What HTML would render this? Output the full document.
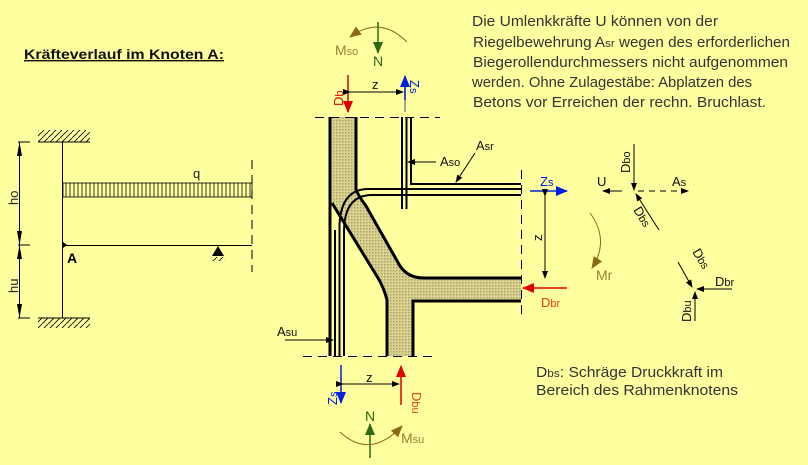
<!DOCTYPE html>
<html><head><meta charset="utf-8"><style>
html,body{margin:0;padding:0;background:#ffff9f;}
svg{display:block;font-family:"Liberation Sans",sans-serif;}
</style></head><body>
<svg width="808" height="465" viewBox="0 0 808 465" xmlns="http://www.w3.org/2000/svg">
<defs>
<pattern id="dots" width="3" height="3" patternUnits="userSpaceOnUse">
<rect width="3" height="3" fill="#ddd58e"/><rect width="1.5" height="1.5" fill="#a9a070"/>
</pattern>
<marker id="ab" markerWidth="8" markerHeight="8" refX="7" refY="4" orient="auto" markerUnits="userSpaceOnUse"><path d="M0,1 L8,4 L0,7z" fill="#000"/></marker>
<marker id="ar" markerWidth="12" markerHeight="10" refX="11" refY="5" orient="auto" markerUnits="userSpaceOnUse"><path d="M0,0 L12,5 L0,10z" fill="#e00000"/></marker>
<marker id="au" markerWidth="12" markerHeight="10" refX="11" refY="5" orient="auto" markerUnits="userSpaceOnUse"><path d="M0,0 L12,5 L0,10z" fill="#0020e0"/></marker>
<marker id="ag" markerWidth="12" markerHeight="10" refX="11" refY="5" orient="auto" markerUnits="userSpaceOnUse"><path d="M0,0 L12,5 L0,10z" fill="#2a6a10"/></marker>
<marker id="ao" markerWidth="12" markerHeight="10" refX="11" refY="5" orient="auto" markerUnits="userSpaceOnUse"><path d="M0,0 L12,5 L0,10z" fill="#8a6a10"/></marker>
<pattern id="vh" width="4" height="14" patternUnits="userSpaceOnUse"><line x1="2" y1="0" x2="2" y2="14" stroke="#000" stroke-width="0.8"/></pattern>
<pattern id="hatch" width="6" height="6" patternUnits="userSpaceOnUse"><line x1="0" y1="6" x2="6" y2="0" stroke="#000" stroke-width="0.8"/></pattern>
</defs>

<!-- left diagram -->
<text x="24" y="59" font-size="14" font-weight="bold" fill="#111" text-decoration="underline" textLength="200" lengthAdjust="spacingAndGlyphs">Kräfteverlauf im Knoten A:</text>
<rect x="38" y="130" width="52" height="12" fill="url(#hatch)"/>
<line x1="38" y1="142" x2="90" y2="142" stroke="#000"/>
<rect x="38" y="318" width="52" height="10" fill="url(#hatch)"/>
<line x1="38" y1="318" x2="90" y2="318" stroke="#000"/>
<line x1="62.5" y1="142" x2="62.5" y2="318" stroke="#000"/>
<rect x="63" y="183" width="189" height="14" fill="url(#vh)" stroke="#000" stroke-width="0.8"/>
<text x="193" y="178" font-size="13" fill="#222">q</text>
<line x1="62" y1="245.5" x2="252" y2="245.5" stroke="#000"/>
<path d="M63,242 L67,245 L63,248z" fill="#000"/>
<text x="67" y="263" font-size="14" font-weight="bold" fill="#000">A</text>
<line x1="252" y1="160" x2="252" y2="272" stroke="#000" stroke-dasharray="9,6"/>
<path d="M218,246 L212,256 L224,256z" fill="#000"/>
<rect x="211" y="257" width="14" height="4" fill="url(#hatch)"/>
<line x1="18" y1="142" x2="30" y2="142" stroke="#000"/>
<line x1="18" y1="245" x2="30" y2="245" stroke="#000"/>
<line x1="18" y1="318" x2="30" y2="318" stroke="#000"/>
<line x1="19.5" y1="142" x2="19.5" y2="318" stroke="#000"/>
<path d="M17,156 L19.5,142 L22,156z M17,231 L19.5,245 L22,231z M17,259 L19.5,245 L22,259z M17,304 L19.5,318 L22,304z" fill="#000"/>
<text transform="translate(18,205) rotate(-90)" font-size="13" fill="#222">ho</text>
<text transform="translate(18,293) rotate(-90)" font-size="13" fill="#222">hu</text>

<!-- node -->
<path d="M330,117 L356,117 L356,190 Q360,198 366,206 L400,266 Q408,278 424,278 L521,278 L521,301 L413,301 L413,356 L387,356 L387,300 Q384,288 378,278 L335,206 L330,200 Z" fill="url(#dots)"/>
<g stroke="#000" fill="none" stroke-width="3">
<line x1="356" y1="117" x2="356" y2="190"/>
<path d="M356,190 Q360,198 366,206 L400,266 Q408,278 424,278 L521,278"/>
<path d="M521,301 L413,301 L413,356"/>
<path d="M387,356 L387,300 Q384,288 378,278 L332,203"/>
<line x1="330" y1="117" x2="330" y2="356"/>
</g>
<g stroke="#000" fill="none" stroke-width="2">
<line x1="335" y1="230" x2="335" y2="356"/>
<line x1="339.5" y1="225" x2="339.5" y2="356"/>
<line x1="344" y1="232" x2="344" y2="356"/>
<path d="M339.5,225 Q341,188 370,189 L521,189"/>
<path d="M344,232 Q344,195 372,195 L521,195"/>
<line x1="402" y1="117" x2="402" y2="209"/>
<line x1="406.5" y1="117" x2="406.5" y2="209"/>
<path d="M411,117 L411,184 L521,184"/>
</g>
<line x1="315" y1="117.5" x2="440" y2="117.5" stroke="#000" stroke-dasharray="9,6"/>
<line x1="303" y1="356.5" x2="433" y2="356.5" stroke="#000" stroke-dasharray="9,6"/>
<line x1="521.5" y1="170" x2="521.5" y2="318" stroke="#000" stroke-dasharray="9,6"/>

<!-- labels & leaders -->
<text x="476" y="150" font-size="13" fill="#111">A<tspan font-size="11">sr</tspan></text>
<line x1="475" y1="153" x2="456" y2="182" stroke="#000" marker-end="url(#ab)"/>
<text x="440" y="166" font-size="13" fill="#111">A<tspan font-size="11">so</tspan></text>
<line x1="436" y1="162" x2="408" y2="162" stroke="#000" marker-end="url(#ab)"/>
<text x="277" y="336" font-size="13" fill="#111">A<tspan font-size="11">su</tspan></text>
<line x1="285" y1="340" x2="333" y2="340" stroke="#000" marker-end="url(#ab)"/>

<!-- top forces -->
<path d="M407,42 Q380,15 350,37" fill="none" stroke="#8a6a10" marker-end="url(#ao)"/>
<text x="335" y="55" font-size="14" fill="#9a8030">M<tspan font-size="11">so</tspan></text>
<line x1="378" y1="22" x2="378" y2="53" stroke="#2a6a10" stroke-width="1.5" marker-end="url(#ag)"/>
<text x="373" y="66" font-size="14" fill="#2a6a10">N</text>
<line x1="348" y1="75" x2="348" y2="112" stroke="#e00000" stroke-width="1.5" marker-end="url(#ar)"/>
<text transform="translate(343,106) rotate(-90)" font-size="13" fill="#e00000">D<tspan font-size="11">b</tspan></text>
<line x1="350" y1="92" x2="403" y2="92" stroke="#000" marker-start="url(#ab)" marker-end="url(#ab)"/>
<text x="372" y="89" font-size="13" fill="#111">z</text>
<line x1="405" y1="112" x2="405" y2="76" stroke="#888" stroke-width="1.5"/>
<line x1="405" y1="100" x2="405" y2="76" stroke="#0020e0" stroke-width="1.5" marker-end="url(#au)"/>
<text transform="translate(410,80) rotate(90)" font-size="13" fill="#0020e0">Z<tspan font-size="11">s</tspan></text>

<!-- right side of node -->
<line x1="530" y1="191" x2="567" y2="191" stroke="#0020e0" stroke-width="1.5" marker-end="url(#au)"/>
<text x="540" y="186" font-size="13" fill="#0020e0">Z<tspan font-size="11">s</tspan></text>
<line x1="545" y1="196" x2="545" y2="278" stroke="#000" marker-start="url(#ab)" marker-end="url(#ab)"/>
<text transform="translate(542,241) rotate(-90)" font-size="13" fill="#111">z</text>
<line x1="567" y1="288" x2="523" y2="288" stroke="#e00000" stroke-width="1.5" marker-end="url(#ar)"/>
<text x="541" y="307" font-size="13" fill="#e04010">D<tspan font-size="11">br</tspan></text>
<path d="M590,213 Q610,240 592,268" fill="none" stroke="#8a6a10" marker-end="url(#ao)"/>
<text x="596" y="280" font-size="14" fill="#9a8030">Mr</text>

<!-- bottom forces -->
<line x1="341" y1="365" x2="341" y2="403" stroke="#0020e0" stroke-width="1.5" marker-end="url(#au)"/>
<text transform="translate(337,405) rotate(-90)" font-size="13" fill="#0020e0">Z<tspan font-size="11">s</tspan></text>
<line x1="343" y1="384" x2="399" y2="384" stroke="#000" marker-start="url(#ab)" marker-end="url(#ab)"/>
<text x="366" y="382" font-size="13" fill="#111">z</text>
<line x1="401" y1="405" x2="401" y2="366" stroke="#e00000" stroke-width="1.5" marker-end="url(#ar)"/>
<text transform="translate(412,392) rotate(90)" font-size="13" fill="#e04010">D<tspan font-size="11">bu</tspan></text>
<line x1="370" y1="458" x2="370" y2="424" stroke="#2a6a10" stroke-width="1.5" marker-end="url(#ag)"/>
<text x="365" y="421" font-size="14" fill="#2a6a10">N</text>
<path d="M340,432 Q370,460 402,426" fill="none" stroke="#8a6a10" marker-end="url(#ao)"/>
<text x="401" y="443" font-size="14" fill="#9a8030">M<tspan font-size="11">su</tspan></text>

<!-- force diagrams -->
<line x1="634" y1="144" x2="634" y2="190" stroke="#000" marker-end="url(#ab)"/>
<text transform="translate(630,173) rotate(-90)" font-size="13" fill="#111">D<tspan font-size="11">bo</tspan></text>
<line x1="622" y1="191" x2="603" y2="191" stroke="#000" marker-end="url(#ab)"/>
<text x="597" y="186" font-size="13" fill="#111">U</text>
<line x1="638" y1="191" x2="688" y2="191" stroke="#000" stroke-dasharray="6,5" marker-end="url(#ab)"/>
<text x="672" y="186" font-size="13" fill="#111">A<tspan font-size="11">s</tspan></text>
<line x1="659" y1="230" x2="636" y2="194" stroke="#000" marker-end="url(#ab)"/>
<text transform="translate(633,210) rotate(58)" font-size="13" fill="#111">D<tspan font-size="11">bs</tspan></text>
<line x1="678" y1="262" x2="692" y2="287" stroke="#000" marker-end="url(#ab)"/>
<text transform="translate(692,252) rotate(58)" font-size="13" fill="#111">D<tspan font-size="11">bs</tspan></text>
<line x1="732" y1="289" x2="697" y2="289" stroke="#000" marker-end="url(#ab)"/>
<text x="715" y="286" font-size="13" fill="#111">D<tspan font-size="11">br</tspan></text>
<line x1="695" y1="321" x2="695" y2="292" stroke="#000" marker-end="url(#ab)"/>
<text transform="translate(691,322) rotate(-90)" font-size="13" fill="#111">D<tspan font-size="11">bu</tspan></text>

<!-- text -->
<g font-size="14.5" fill="#333">
<text x="472" y="26" textLength="246" lengthAdjust="spacingAndGlyphs">Die Umlenkkräfte U können von der</text>
<text x="473" y="47" textLength="317" lengthAdjust="spacingAndGlyphs">Riegelbewehrung A<tspan font-size="11">sr</tspan> wegen des erforderlichen</text>
<text x="473" y="67" textLength="315" lengthAdjust="spacingAndGlyphs">Biegerollendurchmessers nicht aufgenommen</text>
<text x="472" y="87" textLength="280" lengthAdjust="spacingAndGlyphs">werden. Ohne Zulagestäbe: Abplatzen des</text>
<text x="473" y="107" textLength="293" lengthAdjust="spacingAndGlyphs">Betons vor Erreichen der rechn. Bruchlast.</text>
<text x="536" y="377" textLength="187" lengthAdjust="spacingAndGlyphs">D<tspan font-size="11">bs</tspan>: Schräge Druckkraft im</text>
<text x="536" y="395" textLength="202" lengthAdjust="spacingAndGlyphs">Bereich des Rahmenknotens</text>
</g>
</svg>
</body></html>
